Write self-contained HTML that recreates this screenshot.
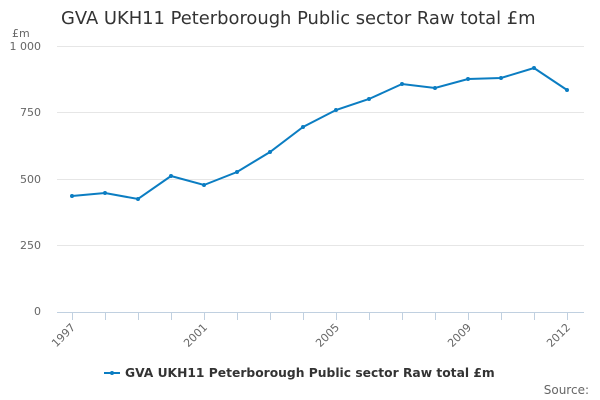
<!DOCTYPE html>
<html><head><meta charset="utf-8"><style>body{margin:0;background:#fff;}svg{display:block;font-family:"DejaVu Sans","Liberation Sans",sans-serif;}</style></head><body>
<svg width="600" height="400" viewBox="0 0 600 400">
<text x="61" y="24" font-size="17.9" fill="#333">GVA UKH11 Peterborough Public sector Raw total £m</text>
<text x="12" y="37" font-size="11" fill="#666">£m</text>
<g stroke="#e6e6e6" stroke-width="1">
<line x1="57" x2="584" y1="46.5" y2="46.5"/><line x1="57" x2="584" y1="112.5" y2="112.5"/><line x1="57" x2="584" y1="179.5" y2="179.5"/><line x1="57" x2="584" y1="245.5" y2="245.5"/>
</g>
<g font-size="11" fill="#666" text-anchor="end">
<text x="41" y="50">1 000</text><text x="41" y="116">750</text><text x="41" y="183">500</text><text x="41" y="249">250</text><text x="41" y="315">0</text>
</g>
<line x1="57" x2="584" y1="312.5" y2="312.5" stroke="#c0d0e0"/>
<g stroke="#c0d0e0">
<line x1="72.5" x2="72.5" y1="312" y2="320"/><line x1="105.5" x2="105.5" y1="312" y2="320"/><line x1="138.5" x2="138.5" y1="312" y2="320"/><line x1="171.5" x2="171.5" y1="312" y2="320"/><line x1="204.5" x2="204.5" y1="312" y2="320"/><line x1="237.5" x2="237.5" y1="312" y2="320"/><line x1="270.5" x2="270.5" y1="312" y2="320"/><line x1="303.5" x2="303.5" y1="312" y2="320"/><line x1="336.5" x2="336.5" y1="312" y2="320"/><line x1="369.5" x2="369.5" y1="312" y2="320"/><line x1="402.5" x2="402.5" y1="312" y2="320"/><line x1="435.5" x2="435.5" y1="312" y2="320"/><line x1="468.5" x2="468.5" y1="312" y2="320"/><line x1="501.5" x2="501.5" y1="312" y2="320"/><line x1="534.5" x2="534.5" y1="312" y2="320"/><line x1="567.5" x2="567.5" y1="312" y2="320"/>
</g>
<g font-size="11" fill="#666" text-anchor="end">
<text transform="translate(76,328) rotate(-45)">1997</text>
<text transform="translate(208,328) rotate(-45)">2001</text>
<text transform="translate(340,328) rotate(-45)">2005</text>
<text transform="translate(472,328) rotate(-45)">2009</text>
<text transform="translate(571,328) rotate(-45)">2012</text>
</g>
<polyline fill="none" stroke="#0b7dc2" stroke-width="2" points="72,196 105,193 138,199 171,176 204,185 237,172 270,152 303,127 336,110 369,99 402,84 435,88 468,79 501,78 534,68 567,90"/>
<g fill="#0b7dc2">
<circle cx="72" cy="196" r="2"/><circle cx="105" cy="193" r="2"/><circle cx="138" cy="199" r="2"/><circle cx="171" cy="176" r="2"/><circle cx="204" cy="185" r="2"/><circle cx="237" cy="172" r="2"/><circle cx="270" cy="152" r="2"/><circle cx="303" cy="127" r="2"/><circle cx="336" cy="110" r="2"/><circle cx="369" cy="99" r="2"/><circle cx="402" cy="84" r="2"/><circle cx="435" cy="88" r="2"/><circle cx="468" cy="79" r="2"/><circle cx="501" cy="78" r="2"/><circle cx="534" cy="68" r="2"/><circle cx="567" cy="90" r="2"/>
</g>
<line x1="104" x2="120" y1="373" y2="373" stroke="#0b7dc2" stroke-width="2"/><circle cx="112" cy="373" r="2" fill="#0b7dc2"/>
<text x="125" y="377" font-size="12.3" font-weight="bold" fill="#333">GVA UKH11 Peterborough Public sector Raw total £m</text>
<text x="589" y="394" font-size="12" fill="#666" text-anchor="end">Source:</text>
</svg>
</body></html>
